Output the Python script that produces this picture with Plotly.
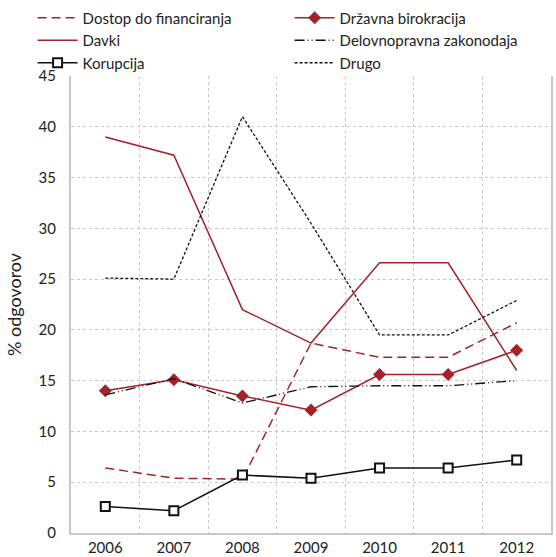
import plotly.graph_objects as go

years = ["2006", "2007", "2008", "2009", "2010", "2011", "2012"]

dostop = [6.4, 5.4, 5.3, 18.7, 17.3, 17.3, 20.7]
birokracija = [14.0, 15.1, 13.5, 12.1, 15.6, 15.6, 18.0]
davki = [39.0, 37.2, 22.0, 18.7, 26.6, 26.6, 16.0]
delovno = [13.6, 15.2, 12.8, 14.4, 14.5, 14.5, 15.0]
korupcija = [2.6, 2.2, 5.7, 5.4, 6.4, 6.4, 7.2]
drugo = [25.1, 25.0, 41.0, 30.5, 19.5, 19.5, 22.9]

red = "#a3232a"
black = "#111111"

fig = go.Figure()

fig.add_trace(go.Scatter(x=years, y=dostop, name="Dostop do financiranja",
                         mode="lines", line=dict(color=red, width=1.5, dash="9px,5px")))
fig.add_trace(go.Scatter(x=years, y=birokracija, name="Državna birokracija",
                         mode="lines+markers", line=dict(color=red, width=1.5),
                         marker=dict(symbol="diamond", size=10, color=red)))
fig.add_trace(go.Scatter(x=years, y=davki, name="Davki",
                         mode="lines", line=dict(color=red, width=1.5)))
fig.add_trace(go.Scatter(x=years, y=delovno, name="Delovnopravna zakonodaja",
                         mode="lines", line=dict(color=black, width=1.3, dash="10px,3px,1px,3px,1px,3px")))
fig.add_trace(go.Scatter(x=years, y=korupcija, name="Korupcija",
                         mode="lines+markers", line=dict(color=black, width=1.5),
                         marker=dict(symbol="square", size=9, color="white",
                                     line=dict(color=black, width=2))))
fig.add_trace(go.Scatter(x=years, y=drugo, name="Drugo",
                         mode="lines", line=dict(color=black, width=1.3, dash="3px,2px")))

fig.update_layout(
    width=556, height=557,
    margin=dict(l=71, r=5, t=76, b=24, autoexpand=False),
    paper_bgcolor="white", plot_bgcolor="white",
    font=dict(family="Lato", size=15, color="#222222"),
    showlegend=True,
    legend=dict(orientation="h", x=-0.08, xanchor="left",
                y=1.163, yanchor="top",
                entrywidth=202, entrywidthmode="pixels",
                font=dict(size=15), tracegroupgap=0, itemwidth=40,
                bgcolor="rgba(0,0,0,0)"),
)

fig.update_xaxes(type="category", range=[-0.5, 6.5], tickson="boundaries",
                 ticks="", showgrid=True, gridcolor="#c8c8c8", griddash="dot",
                 gridwidth=1, showline=True, linecolor="#c8c8c8", linewidth=2,
                 mirror=False, tickfont=dict(size=15))
fig.update_yaxes(range=[0, 45], dtick=5, showgrid=True, gridcolor="#c8c8c8",
                 griddash="dot", gridwidth=1, showline=True, linecolor="#c8c8c8",
                 linewidth=2, mirror=True, ticks="", zeroline=False,
                 ticklabelstandoff=10,
                 title=dict(text="% odgovorov", standoff=12),
                 tickfont=dict(size=15))

# page body has a default 8px margin; drop it so the figure fills the window
fig.write_html("out.html", config={"displayModeBar": False},
               post_script="document.body.style.margin = '0';")
